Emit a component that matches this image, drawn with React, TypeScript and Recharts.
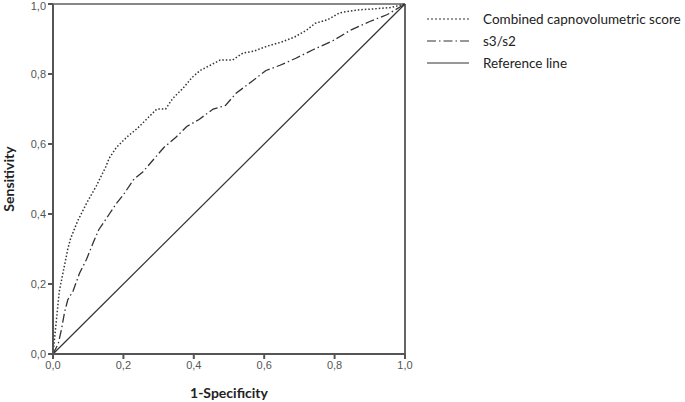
import React from 'react'
import { LineChart, Line, XAxis, YAxis, ReferenceLine } from 'recharts'

const combinedFpr = [0, 0.004, 0.009, 0.018, 0.028, 0.042, 0.05, 0.07, 0.095, 0.123, 0.15, 0.16, 0.18, 0.21, 0.24, 0.265, 0.295, 0.32, 0.34, 0.37, 0.395, 0.418, 0.447, 0.475, 0.51, 0.54, 0.57, 0.61, 0.645, 0.685, 0.72, 0.745, 0.78, 0.815, 0.865, 0.91, 0.96, 1]
const combinedTpr = [0, 0.04, 0.09, 0.18, 0.23, 0.3, 0.33, 0.38, 0.43, 0.48, 0.535, 0.56, 0.59, 0.62, 0.645, 0.67, 0.7, 0.7, 0.73, 0.76, 0.79, 0.81, 0.825, 0.84, 0.84, 0.86, 0.865, 0.88, 0.89, 0.905, 0.925, 0.945, 0.955, 0.975, 0.983, 0.986, 0.99, 1]

const ratioFpr = [0, 0.015, 0.024, 0.033, 0.042, 0.057, 0.075, 0.095, 0.115, 0.13, 0.16, 0.18, 0.2, 0.23, 0.255, 0.285, 0.315, 0.35, 0.38, 0.415, 0.455, 0.49, 0.52, 0.56, 0.605, 0.645, 0.69, 0.74, 0.795, 0.845, 0.9, 0.95, 1]
const ratioTpr = [0, 0.03, 0.07, 0.12, 0.155, 0.18, 0.23, 0.27, 0.32, 0.355, 0.4, 0.43, 0.455, 0.5, 0.52, 0.555, 0.59, 0.62, 0.65, 0.67, 0.7, 0.71, 0.745, 0.775, 0.81, 0.825, 0.845, 0.87, 0.895, 0.925, 0.95, 0.97, 1]

const refFpr = [0, 1]
const refTpr = [0, 1]

const ticks = [0, 0.2, 0.4, 0.6, 0.8, 1]

const toPoints = (xs: number[], ys: number[]) => xs.map((x, i) => ({ x, y: ys[i] }))

const legendItems = [
  { label: 'Combined capnovolumetric score', dash: '2 2' },
  { label: 's3/s2', dash: '9 3 1.5 3' },
  { label: 'Reference line', dash: undefined },
]

const fmt = (v: number) => v.toFixed(1).replace('.', ',')
const labelFont = "Lato, 'Open Sans', sans-serif"

function LegendBox() {
  return (
    <svg width={263} height={80} style={{ position: 'absolute', left: 422, top: 8 }}>
      {legendItems.map((it, i) => (
        <g key={it.label} transform={`translate(0, ${i * 22 + 11})`}>
          <line x1={5} x2={47} y1={0} y2={0} stroke="#333" strokeWidth={1.2} strokeDasharray={it.dash} />
          <text x={61} y={5} fontSize={13.5} fill="#222" fontFamily={labelFont}>{it.label}</text>
        </g>
      ))}
    </svg>
  )
}

export default function App() {
  return (
    <div style={{ position: 'absolute', left: 0, top: 0, width: 685, height: 402, background: '#fff' }}>
      <LineChart width={685} height={402} margin={{ top: 4, right: 280, left: 0, bottom: 0 }}>
        <XAxis
          type="number"
          dataKey="x"
          domain={[0, 1]}
          ticks={ticks}
          tickFormatter={fmt}
          height={48}
          stroke="#555"
          strokeWidth={2}
          tickSize={5}
          tick={{ fontSize: 11, fill: '#555', fontFamily: 'Liberation Sans, Arial' }}
          label={({ viewBox }: any) => (
            <text x={viewBox.x + viewBox.width / 2} y={398} textAnchor="middle" fontSize={14} fontWeight={700} fill="#222" fontFamily={labelFont}>
              1-Specificity
            </text>
          )}
        />
        <YAxis
          type="number"
          dataKey="y"
          domain={[0, 1]}
          ticks={ticks}
          tickFormatter={fmt}
          width={53}
          stroke="#555"
          strokeWidth={2}
          tickSize={5}
          tick={{ fontSize: 11, fill: '#555', fontFamily: 'Liberation Sans, Arial' }}
          label={({ viewBox }: any) => {
            const cy = viewBox.y + viewBox.height / 2
            return (
              <text x={14} y={cy} transform={`rotate(-90, 14, ${cy})`} textAnchor="middle" fontSize={14} fontWeight={700} fill="#222" fontFamily={labelFont}>
                Sensitivity
              </text>
            )
          }}
        />
        <ReferenceLine y={1} stroke="#888" strokeWidth={2} />
        <ReferenceLine x={1} stroke="#666" strokeWidth={2} />
        <Line data={toPoints(refFpr, refTpr)} dataKey="y" type="linear" stroke="#333" strokeWidth={1.2} dot={false} isAnimationActive={false} />
        <Line data={toPoints(ratioFpr, ratioTpr)} dataKey="y" type="linear" stroke="#333" strokeWidth={1.3} strokeDasharray="9 3 1.5 3" dot={false} isAnimationActive={false} />
        <Line data={toPoints(combinedFpr, combinedTpr)} dataKey="y" type="linear" stroke="#333" strokeWidth={1.5} strokeDasharray="1.5 2" dot={false} isAnimationActive={false} />
      </LineChart>
      <LegendBox />
    </div>
  )
}
